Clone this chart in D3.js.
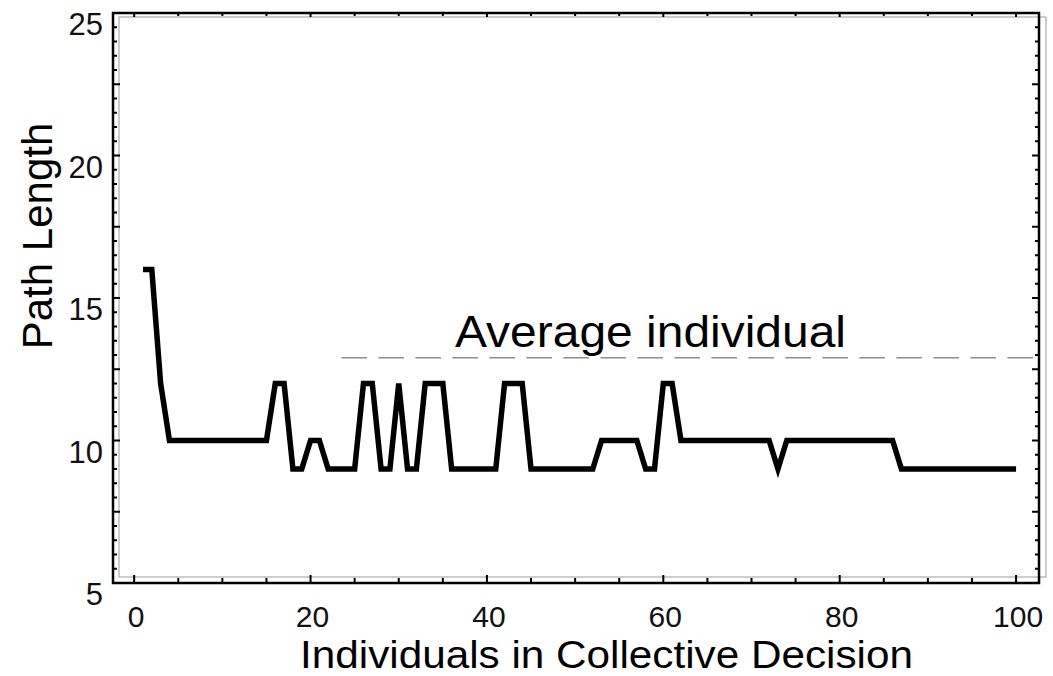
<!DOCTYPE html>
<html><head><meta charset="utf-8">
<script src="https://cdn.jsdelivr.net/npm/d3@7"></script>
<style>body{margin:0;background:#fff}svg{display:block}</style>
</head><body>
<svg id="c" width="1053" height="676"></svg>
<script>
// ---- data ----
const individuals = d3.range(1, 101);
const pathLength = [
  16, 16, 12,
  10, 10, 10, 10, 10, 10, 10, 10, 10, 10, 10, 10,
  12, 12, 9, 9, 10, 10, 9, 9, 9, 9,
  12, 12, 9, 9, 12, 9, 9, 12, 12, 12,
  9, 9, 9, 9, 9, 9, 12, 12, 12,
  9, 9, 9, 9, 9, 9, 9, 9,
  10, 10, 10, 10, 10, 9, 9, 12, 12,
  10, 10, 10, 10, 10, 10, 10, 10, 10, 10, 10,
  9,
  10, 10, 10, 10, 10, 10, 10, 10, 10, 10, 10, 10, 10,
  9, 9, 9, 9, 9, 9, 9, 9, 9, 9, 9, 9, 9, 9
];
const averageIndividual = 12.9;
const averageStart = 23.5;
const averageLabel = "Average individual";
const xTickLabels = [0, 20, 40, 60, 80, 100];
const yTickLabels = [5, 10, 15, 20, 25];
const xTitle = "Individuals in Collective Decision";
const yTitle = "Path Length";

// ---- layout ----
const svg = d3.select("#c");
const L = 113, R = 1039, T = 13, B = 583;
const x = d3.scaleLinear().domain([-2.4, 102.6]).range([L, R]);
const y = d3.scaleLinear().domain([5, 25]).range([B, T]);
const FONT = "Liberation Sans, Arial, sans-serif";

// gray offset frame
svg.append("rect").attr("x", 119).attr("y", 17).attr("width", 1046 - 119).attr("height", 577 - 17)
  .attr("fill", "none").attr("stroke", "#9a9a9a").attr("stroke-width", 1);

// ticks
const yMinor = d3.range(5, 25.01, 0.5);
const xMinor = d3.range(0, 100.01, 5);
const tickG = svg.append("g").attr("stroke", "#000").attr("stroke-width", 2);
yMinor.forEach(v => {
  const major = Math.abs(v / 2.5 - Math.round(v / 2.5)) < 1e-6;
  const len = major ? 7 : 4;
  tickG.append("line").attr("x1", L).attr("x2", L + len).attr("y1", y(v)).attr("y2", y(v));
  tickG.append("line").attr("x1", R).attr("x2", R - len).attr("y1", y(v)).attr("y2", y(v));
});
xMinor.forEach(v => {
  const major = v % 20 === 0;
  tickG.append("line").attr("x1", x(v)).attr("x2", x(v)).attr("y1", B).attr("y2", B - (major ? 8 : 5));
  tickG.append("line").attr("x1", x(v)).attr("x2", x(v)).attr("y1", T).attr("y2", T + (major ? 4 : 3));
});

// black frame
svg.append("rect").attr("x", L).attr("y", T).attr("width", R - L).attr("height", B - T)
  .attr("fill", "none").attr("stroke", "#000").attr("stroke-width", 2.5);

// tick labels
svg.append("g").selectAll("text").data(yTickLabels).join("text")
  .attr("x", 103).attr("y", d => y(d) + 22)
  .attr("text-anchor", "end")
  .attr("font-family", FONT).attr("font-size", 31).attr("fill", "#111")
  .text(d => d);
svg.append("g").selectAll("text").data(xTickLabels).join("text")
  .attr("x", d => x(d) + 2).attr("y", 627)
  .attr("text-anchor", "middle")
  .attr("font-family", FONT).attr("font-size", 30).attr("fill", "#111")
  .text(d => d);

// average dashed line
svg.append("line")
  .attr("x1", x(averageStart)).attr("x2", R - 3)
  .attr("y1", y(averageIndividual)).attr("y2", y(averageIndividual))
  .attr("stroke", "#555").attr("stroke-width", 1).attr("stroke-dasharray", "25.5,11.5");
svg.append("text").attr("x", 455).attr("y", 347)
  .attr("font-family", FONT).attr("font-size", 45)
  .attr("textLength", 391).attr("lengthAdjust", "spacingAndGlyphs")
  .text(averageLabel);

// data line
const line = d3.line().x((d, i) => x(individuals[i])).y(d => y(d));
svg.append("path").datum(pathLength)
  .attr("d", line).attr("fill", "none").attr("stroke", "#000")
  .attr("stroke-width", 5.5).attr("stroke-linejoin", "miter").attr("stroke-miterlimit", 4);

// axis titles
svg.append("text").attr("x", 300).attr("y", 668)
  .attr("font-family", FONT).attr("font-size", 38)
  .attr("textLength", 613).attr("lengthAdjust", "spacingAndGlyphs")
  .text(xTitle);
svg.append("text").attr("transform", "translate(52,236) rotate(-90)").attr("text-anchor", "middle")
  .attr("font-family", FONT).attr("font-size", 42)
  .text(yTitle);
</script>
</body></html>
